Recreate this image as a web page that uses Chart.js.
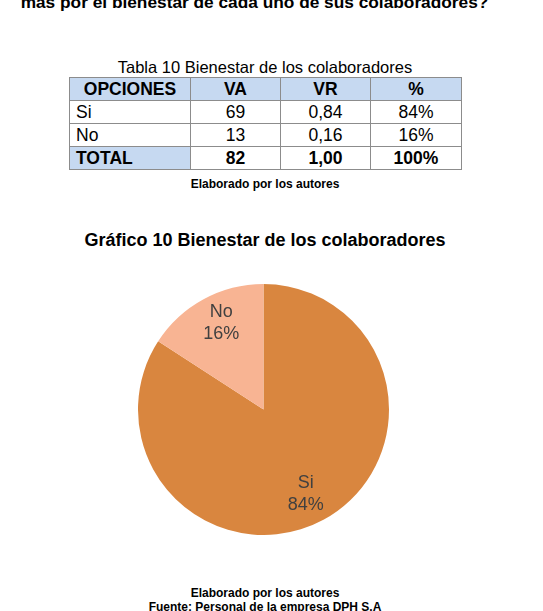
<!DOCTYPE html>
<html>
<head>
<meta charset="utf-8">
<script src="https://cdn.jsdelivr.net/npm/chart.js@4/dist/chart.umd.min.js"></script>
<style>
  body { margin: 0; width: 543px; height: 611px; background: #fff; position: relative; overflow: hidden;
         font-family: "Liberation Sans", Arial, sans-serif; color: #000; }
  .abs { position: absolute; left: 0; width: 530px; text-align: center; white-space: nowrap; }
  #topTitle { top: -8px; font-size: 17.3px; font-weight: bold; left: 0; width: 509px; }
  #caption { top: 58px; font-size: 16.5px; }
  table { position: absolute; left: 69px; top: 77px; border-collapse: collapse; font-size: 17.5px; }
  td { border: 1px solid #8c8c8c; height: 22px; padding: 0 6px; text-align: center; line-height: 20px; }
  td.first { text-align: left; }
  tr.head td { background: #c6d9f1; font-weight: bold; text-align: center; }
  tr.total td { font-weight: bold; }
  tr.total td.first { background: #c6d9f1; }
  .small { font-size: 12px; font-weight: bold; }
  #src1 { top: 177px; }
  #chartTitle { top: 230px; font-size: 18px; font-weight: bold; }
  #pieBox { position: absolute; left: 138px; top: 284px; width: 251px; height: 251px; }
  #foot1 { top: 586px; }
  #foot2 { top: 600px; }
</style>
</head>
<body>
<div class="abs" id="topTitle">más por el bienestar de cada uno de sus colaboradores?</div>
<div class="abs" id="caption">Tabla 10 Bienestar de los colaboradores</div>
<table id="tbl"></table>
<div class="abs small" id="src1">Elaborado por los autores</div>
<div class="abs" id="chartTitle">Gráfico 10 Bienestar de los colaboradores</div>
<div id="pieBox"><canvas id="pieChart"></canvas></div>
<div class="abs small" id="foot1">Elaborado por los autores</div>
<div class="abs small" id="foot2">Fuente: Personal de la empresa DPH S.A</div>
<script>
// data
const headers = ['OPCIONES', 'VA', 'VR', '%'];
const categories = ['Si', 'No'];
const va = [69, 13];
const vr = ['0,84', '0,16'];
const pct = ['84%', '16%'];
const totalRow = ['TOTAL', '82', '1,00', '100%'];
const colWidths = [121, 90, 90, 91];
const sliceColors = ['#D9863F', '#F8B493'];

// table
const tbl = document.getElementById('tbl');
function addRow(cells, cls) {
  const tr = document.createElement('tr');
  if (cls) tr.className = cls;
  cells.forEach((c, i) => {
    const td = document.createElement('td');
    td.textContent = c;
    td.style.width = (colWidths[i] - 13) + 'px';
    if (i === 0) td.className = 'first';
    tr.appendChild(td);
  });
  tbl.appendChild(tr);
}
addRow(headers, 'head');
categories.forEach((c, i) => addRow([c, va[i], vr[i], pct[i]]));
addRow(totalRow, 'total');

// labels inside the slices
const sliceLabels = {
  id: 'sliceLabels',
  afterDatasetsDraw(chart) {
    const ctx = chart.ctx;
    const meta = chart.getDatasetMeta(0);
    ctx.save();
    ctx.font = '18px "Liberation Sans", Arial, sans-serif';
    ctx.fillStyle = '#404040';
    ctx.textAlign = 'center';
    ctx.textBaseline = 'middle';
    meta.data.forEach((arc, i) => {
      const p = arc.getProps(['x', 'y', 'startAngle', 'endAngle', 'outerRadius'], true);
      const mid = (p.startAngle + p.endAngle) / 2 + 0.04;
      const r = p.outerRadius * 0.76;
      const x = p.x + Math.cos(mid) * r;
      const y = p.y + Math.sin(mid) * r;
      ctx.fillText(categories[i], x, y - 12);
      ctx.fillText(pct[i], x, y + 10);
    });
    ctx.restore();
  }
};

new Chart(document.getElementById('pieChart'), {
  type: 'pie',
  data: {
    labels: categories,
    datasets: [{
      data: va,
      backgroundColor: sliceColors,
      borderWidth: 0
    }]
  },
  options: {
    responsive: true,
    maintainAspectRatio: false,
    animation: false,
    layout: { padding: 0 },
    plugins: {
      legend: { display: false },
      tooltip: { enabled: false }
    }
  },
  plugins: [sliceLabels]
});
</script>
</body>
</html>
